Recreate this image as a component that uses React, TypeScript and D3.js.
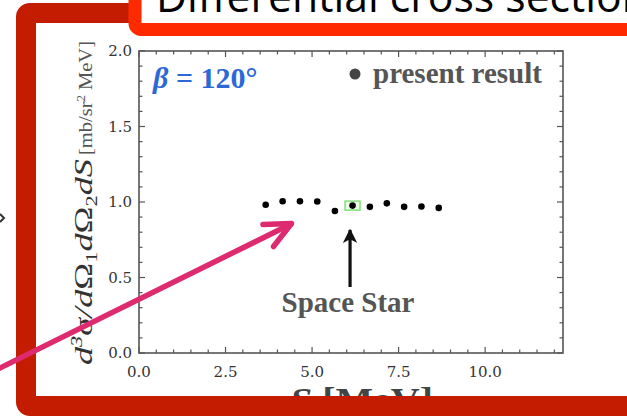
import React from "react";
import * as d3 from "d3";

const energies = [3.66, 4.15, 4.65, 5.15, 5.66, 6.17, 6.67, 7.16, 7.66, 8.16, 8.66];
const crossSections = [0.982, 1.005, 1.005, 1.003, 0.94, 0.976, 0.968, 0.991, 0.968, 0.97, 0.961];
const spaceStarIndex = 5;
const xTickLabels = ["0.0", "2.5", "5.0", "7.5", "10.0"];
const xMajorTicks = [0, 2.5, 5, 7.5, 10];
const yTickLabels = ["0.0", "0.5", "1.0", "1.5", "2.0"];
const yMajorTicks = [0, 0.5, 1, 1.5, 2];
const xMinorStep = 0.5;
const yMinorStep = 0.1;

const W = 627;
const H = 417;
const plot = { left: 139, right: 563, top: 51, bottom: 353 };

export default function App() {
  const x = d3.scaleLinear().domain([0, 12.25]).range([plot.left, plot.right]);
  const y = d3.scaleLinear().domain([0, 2]).range([plot.bottom, plot.top]);

  const xMinor = d3.range(0, 12.25 + 1e-9, xMinorStep).filter((v) => !xMajorTicks.some((m) => Math.abs(m - v) < 1e-6));
  const yMinor = d3.range(0, 2 + 1e-9, yMinorStep).filter((v) => !yMajorTicks.some((m) => Math.abs(m - v) < 1e-6));

  const axisColor = "#555";
  const major = 6;
  const minor = 3.5;

  const tickLines: JSX.Element[] = [];
  xMajorTicks.forEach((t, i) => {
    tickLines.push(<line key={"xb" + i} x1={x(t)} x2={x(t)} y1={plot.bottom} y2={plot.bottom - major} />);
    tickLines.push(<line key={"xt" + i} x1={x(t)} x2={x(t)} y1={plot.top} y2={plot.top + major} />);
  });
  xMinor.forEach((t, i) => {
    tickLines.push(<line key={"xbm" + i} x1={x(t)} x2={x(t)} y1={plot.bottom} y2={plot.bottom - minor} />);
    tickLines.push(<line key={"xtm" + i} x1={x(t)} x2={x(t)} y1={plot.top} y2={plot.top + minor} />);
  });
  yMajorTicks.forEach((t, i) => {
    tickLines.push(<line key={"yl" + i} x1={plot.left} x2={plot.left + major} y1={y(t)} y2={y(t)} />);
    tickLines.push(<line key={"yr" + i} x1={plot.right} x2={plot.right - major} y1={y(t)} y2={y(t)} />);
  });
  yMinor.forEach((t, i) => {
    tickLines.push(<line key={"ylm" + i} x1={plot.left} x2={plot.left + minor} y1={y(t)} y2={y(t)} />);
    tickLines.push(<line key={"yrm" + i} x1={plot.right} x2={plot.right - minor} y1={y(t)} y2={y(t)} />);
  });

  const starX = x(energies[spaceStarIndex]);
  const starY = y(crossSections[spaceStarIndex]);

  const serif = "'Liberation Serif', 'Times New Roman', serif";
  const tickFont = "'DejaVu Serif', serif";

  return (
    <svg width={W} height={H} style={{ position: "absolute", left: 0, top: 0, background: "#fff" }}>
      <defs>
        <marker id="blackHead" viewBox="0 0 10 10" refX="9" refY="5" markerWidth="4.5" markerHeight="4.5" orient="auto" markerUnits="strokeWidth">
          <path d="M0,0 L10,5 L0,10 L2.5,5 Z" fill="#111" />
        </marker>
      </defs>
      <rect x={0} y={0} width={W} height={H} fill="#fff" />

      {/* y axis title */}
      <text
        transform={`translate(92,365) rotate(-90)`}
        fontFamily={serif}
        fontStyle="italic"
        fontSize={26}
        fill="#333"
        textLength={206}
        lengthAdjust="spacingAndGlyphs"
      >
        d<tspan fontSize={16} dy={-10}>3</tspan>
        <tspan dy={10}>σ/d</tspan>
        <tspan fontStyle="normal">Ω</tspan>
        <tspan fontSize={16} fontStyle="normal" dy={5}>1</tspan>
        <tspan dy={-5}>d</tspan>
        <tspan fontStyle="normal">Ω</tspan>
        <tspan fontSize={16} fontStyle="normal" dy={5}>2</tspan>
        <tspan dy={-5}>dS</tspan>
      </text>
      <text
        transform={`translate(92,155) rotate(-90)`}
        fontFamily={serif}
        fontSize={19}
        fill="#555"
        textLength={114}
        lengthAdjust="spacingAndGlyphs"
      >
        [mb/sr<tspan fontSize={12} dy={-7}>2</tspan>
        <tspan dy={7}> MeV]</tspan>
      </text>

      {/* x axis title (mostly hidden by frame) */}
      <text x={290} y={411} fontFamily={serif} fontWeight="bold" fontSize={34} fill="#444" textLength={143} lengthAdjust="spacingAndGlyphs">
        <tspan fontStyle="italic">S</tspan> [MeV]
      </text>

      {/* plot frame and ticks */}
      <g stroke={axisColor} strokeWidth={1.2}>{tickLines}</g>
      <rect x={plot.left} y={plot.top} width={plot.right - plot.left} height={plot.bottom - plot.top} fill="none" stroke={axisColor} strokeWidth={1.6} />

      {/* tick labels */}
      <g fontFamily={tickFont} fontSize={15} fill="#333">
        {xMajorTicks.map((t, i) => (
          <text key={"xl" + i} x={x(t)} y={377} textAnchor="middle">
            {xTickLabels[i]}
          </text>
        ))}
        {yMajorTicks.map((t, i) => (
          <text key={"yl" + i} x={132} y={y(t) + 5} textAnchor="end">
            {yTickLabels[i]}
          </text>
        ))}
      </g>

      {/* annotations */}
      <text x={153} y={88} fontFamily={serif} fontWeight="bold" fontSize={30} fill="#2c68d6">
        <tspan fontStyle="italic">β</tspan> = 120°
      </text>
      <circle cx={355} cy={74} r={5.5} fill="#444" />
      <text x={373} y={83} fontFamily={serif} fontWeight="bold" fontSize={29} fill="#555">
        present result
      </text>

      {/* highlight box */}
      <rect x={starX - 7.5} y={starY - 4.5} width={15} height={9} fill="#effbe9" stroke="#86e27f" strokeWidth={1.6} />

      {/* data points */}
      {energies.map((e, i) => (
        <circle key={"p" + i} cx={x(e)} cy={y(crossSections[i])} r={3.3} fill="#000" />
      ))}

      {/* Space Star arrow */}
      <line x1={starX - 2.5} y1={287} x2={starX - 2.5} y2={230} stroke="#111" strokeWidth={3.2} markerEnd="url(#blackHead)" />
      <text x={348} y={312} textAnchor="middle" fontFamily={serif} fontWeight="bold" fontSize={29} fill="#555">
        Space Star
      </text>

      {/* outer slide frame */}
      <rect x={26} y={13} width={611} height={393} rx={4} fill="none" stroke="#c41c00" strokeWidth={20} />

      {/* title box */}
      <rect x={135} y={-40} width={520} height={69.5} rx={6} fill="#fff" stroke="#ff2a00" strokeWidth={13} />
      <text x={156} y={12} fontFamily="'Open Sans', sans-serif" fontSize={44} fill="#000" textLength={492} lengthAdjust="spacingAndGlyphs">
        Differential cross section
      </text>

      {/* pink arrow */}
      <g stroke="#de2a6e" strokeWidth={5.5} strokeLinecap="round" strokeLinejoin="round" fill="none">
        <line x1={-10} y1={373} x2={291} y2={224} />
        <polyline points="263,224.5 291.5,223.5 273.5,246.5" />
      </g>

      {/* small chevron at left edge */}
      <polyline points="0,214 4,218 0,222" fill="none" stroke="#333" strokeWidth={2} />
    </svg>
  );
}
